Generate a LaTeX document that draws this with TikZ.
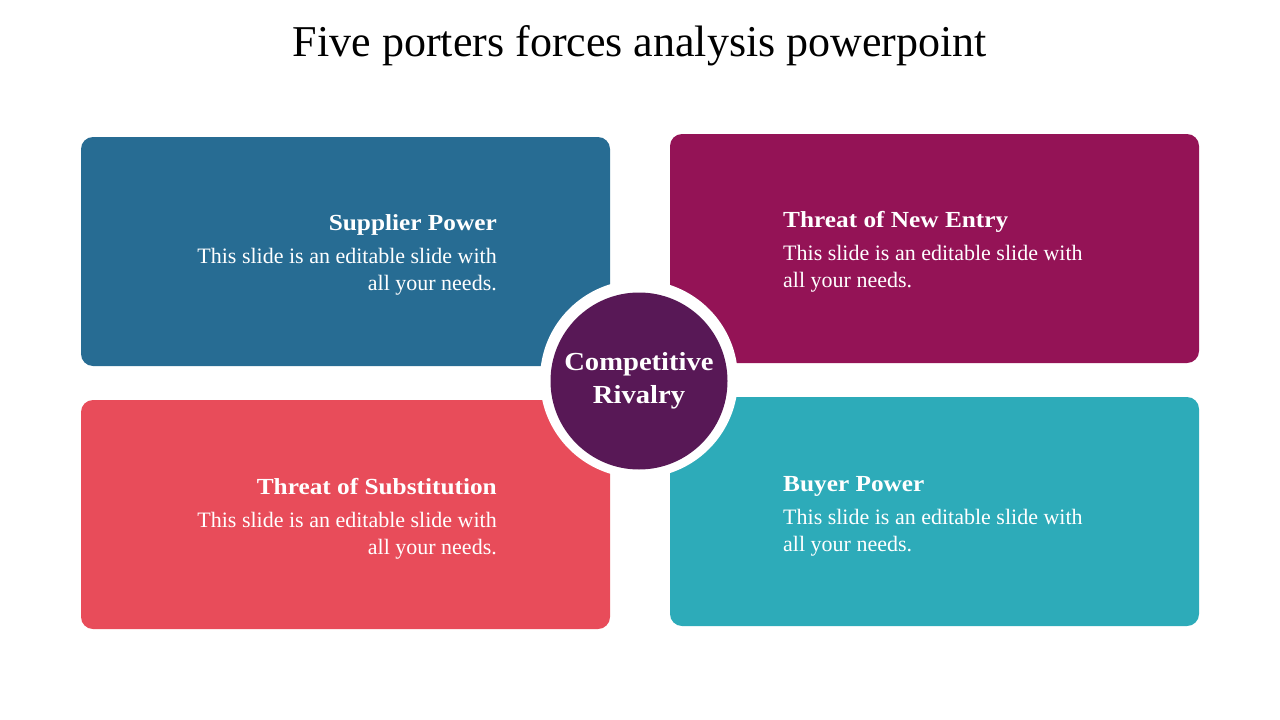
\documentclass[tikz,border=0pt]{standalone}
\usepackage{fontspec}
\setmainfont{Liberation Serif}
\newfontfamily\widebold{Liberation Serif}[FakeStretch=1.1]
\usepackage{tikz}
\usetikzlibrary{positioning}

\definecolor{supplierblue}{HTML}{276C93}
\definecolor{entrymagenta}{HTML}{941356}
\definecolor{substred}{HTML}{E84C5A}
\definecolor{buyerteal}{HTML}{2DABB9}
\definecolor{rivalpurple}{HTML}{581856}

\begin{document}
\begin{tikzpicture}[x=1pt,y=-1pt,
  card/.style={#1,fill=#1,rectangle,rounded corners=12pt,minimum width=529pt,minimum height=229pt,inner sep=0pt},
  head/.style={text=white,font=\widebold\fontsize{23}{25}\selectfont\bfseries,inner sep=0pt},
  body/.style={text=white,font=\fontsize{22}{27}\selectfont,inner sep=0pt},
  ring/.style={circle,fill=white,minimum size=198pt,inner sep=0pt},
  hub/.style={circle,fill=rivalpurple,minimum size=177pt,inner sep=0pt,text=white,align=center,font=\widebold\fontsize{26}{33}\selectfont\bfseries}]
\path[use as bounding box] (0,0) rectangle (1280,720);
\node[font=\fontsize{44}{48}\selectfont,inner sep=0pt,anchor=base] (title) at (640,56) {Five porters forces analysis powerpoint};
% four forces
\node[card=supplierblue] (supplier) at (345.5,251.5) {};
\node[card=entrymagenta] (entry) at (934.5,248.5) {};
\node[card=substred] (subst) at (345.5,514.5) {};
\node[card=buyerteal] (buyer) at (934.5,511.5) {};
% left column text
\foreach \n/\t/\y in {sup/Supplier Power/230,sub/Threat of Substitution/494} {
   \node[head,anchor=base east] (\n head) at (497,\y) {\t};
   \node[body,anchor=base east] (\n one) at (497,\y+33) {This slide is an editable slide with};
   \node[body,anchor=base east] (\n two) at (497,\y+60) {all your needs.};
}
% right column text
\foreach \n/\t/\y in {ent/Threat of New Entry/227,buy/Buyer Power/491} {
   \node[head,anchor=base west] (\n head) at (783,\y) {\t};
   \node[body,anchor=base west] (\n one) at (783,\y+33) {This slide is an editable slide with};
   \node[body,anchor=base west] (\n two) at (783,\y+60) {all your needs.};
}
\node[ring] (ring) at (639,379) {};
\node[hub] (rivalry) at (639,381) {Competitive\\Rivalry};
\end{tikzpicture}
\end{document}
